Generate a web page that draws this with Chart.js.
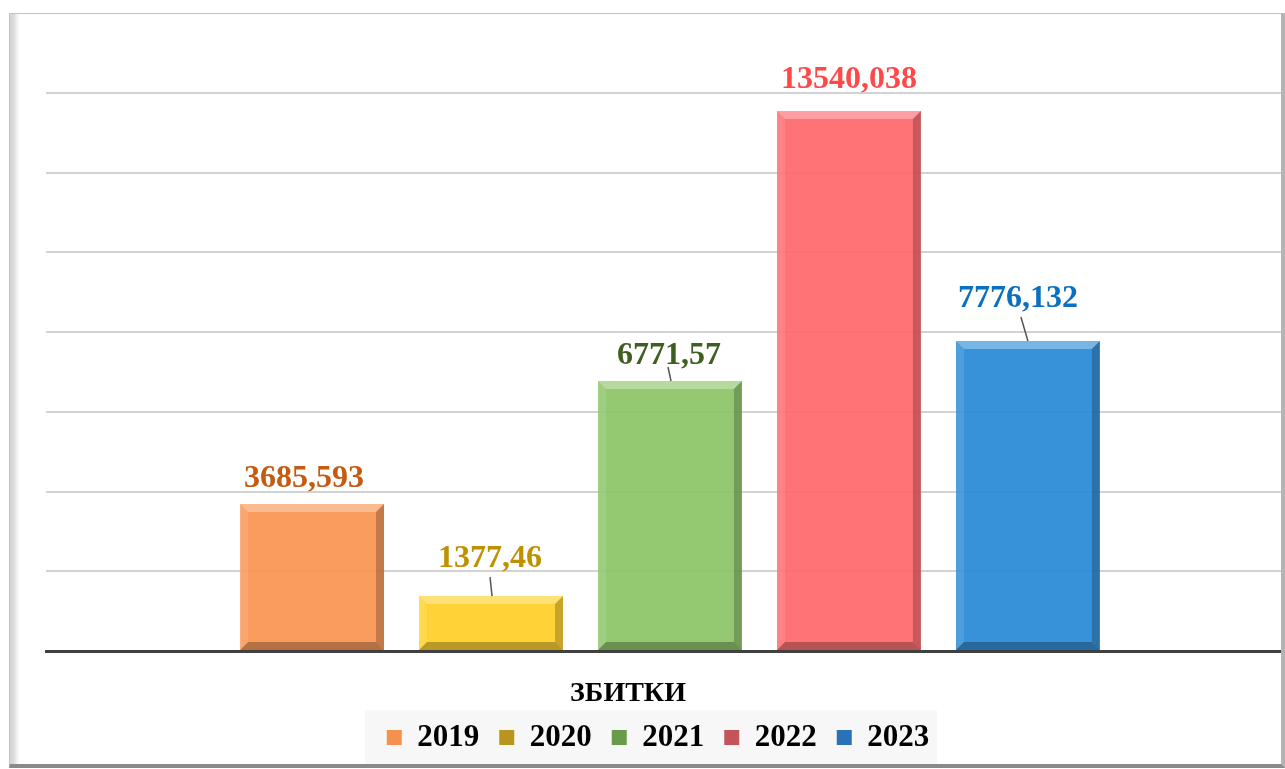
<!DOCTYPE html>
<html>
<head>
<meta charset="utf-8">
<script src="https://cdn.jsdelivr.net/npm/chart.js@4"></script>
<style>
    html, body { margin: 0; padding: 0; background: #fff; overflow: hidden; }
    #wrap { position: relative; width: 1285px; height: 769px; overflow: hidden; }
    #chart { position: absolute; left: 0; top: 0; }
    .frame {
        position: absolute; left: 9px; top: 13px; width: 1271px; height: 750px;
        border-top: 1px solid #c4c4c4; border-left: 1px solid #c4c4c4;
        border-right: 4px solid #b4b4b4; border-bottom: 4px solid #8a8a8a;
        box-shadow: inset 11px 0 4px -5px #d6d6d6;
        pointer-events: none; z-index: 2;
    }
</style>
</head>
<body>
<div id="wrap">
    <canvas id="chart" width="1297" height="769"></canvas>
    <div class="frame"></div>
</div>
<script>
// chart data
const categories = ['ЗБИТКИ'];
const years = ['2019', '2020', '2021', '2022', '2023'];
const losses = [3685.593, 1377.46, 6771.57, 13540.038, 7776.132];

const barColors = ['rgba(250,148,82,0.93)', 'rgba(255,208,40,0.93)', 'rgba(140,196,102,0.93)', 'rgba(255,104,108,0.93)', 'rgba(40,138,214,0.93)'];
const legendColors = ['#f5914e', '#b8961e', '#6a9a4c', '#c4545a', '#2a72b8'];
const labelColors = ['#c55a11', '#bf9000', '#3f5f22', '#ff4848', '#0a70c2'];
// label offset from bar top centre, optional leader line
const labelPos = [
    { dx: -8, dy: -25 },
    { dx: -1, dy: -37, line: [[-1, -19], [1, 0]] },
    { dx: -1, dy: -25, line: [[-2, -14], [1, 0]] },
    { dx: 0, dy: -31 },
    { dx: -10, dy: -42, line: [[-7, -24], [0, 0]] }
];

const serif = "'Liberation Serif', 'Times New Roman', serif";
const legendShift = -12;

// beveled look for the bars
const bevelPlugin = {
    id: 'bevel',
    afterDatasetsDraw(chart) {
        const ctx = chart.ctx;
        chart.data.datasets.forEach((ds, i) => {
            const meta = chart.getDatasetMeta(i);
            meta.data.forEach(bar => {
                const l = bar.x - bar.width / 2, r = bar.x + bar.width / 2;
                const t = bar.y, b = bar.base, s = 8;
                const poly = (pts, fill) => {
                    ctx.beginPath();
                    ctx.moveTo(pts[0][0], pts[0][1]);
                    pts.slice(1).forEach(p => ctx.lineTo(p[0], p[1]));
                    ctx.closePath();
                    ctx.fillStyle = fill;
                    ctx.fill();
                };
                ctx.save();
                poly([[l, t], [r, t], [r - s, t + s], [l + s, t + s]], 'rgba(255,255,255,0.32)');
                poly([[l, t], [l + s, t + s], [l + s, b - s], [l, b]], 'rgba(255,255,255,0.10)');
                poly([[r, t], [r, b], [r - s, b - s], [r - s, t + s]], 'rgba(0,0,0,0.22)');
                poly([[l, b], [r, b], [r - s, b - s], [l + s, b - s]], 'rgba(0,0,0,0.28)');
                ctx.restore();
            });
        });
    }
};

// value labels above bars
const valueLabels = {
    id: 'valueLabels',
    afterDatasetsDraw(chart) {
        const ctx = chart.ctx;
        ctx.save();
        chart.data.datasets.forEach((ds, i) => {
            const bar = chart.getDatasetMeta(i).data[0];
            const pos = labelPos[i];
            const text = String(ds.data[0]).replace('.', ',');
            if (pos.line) {
                ctx.beginPath();
                ctx.moveTo(bar.x + pos.line[0][0], bar.y + pos.line[0][1]);
                ctx.lineTo(bar.x + pos.line[1][0], bar.y + pos.line[1][1]);
                ctx.strokeStyle = '#555';
                ctx.lineWidth = 1.5;
                ctx.stroke();
            }
            ctx.font = 'bold 32px ' + serif;
            ctx.fillStyle = labelColors[i];
            ctx.textAlign = 'center';
            ctx.textBaseline = 'middle';
            ctx.fillText(text, bar.x + pos.dx, bar.y + pos.dy);
        });
        ctx.restore();
    }
};

// move legend a bit left and paint the light band behind it
const legendBand = {
    id: 'legendBand',
    afterLayout(chart) {
        chart.legend.left += legendShift;
        chart.legend.right += legendShift;
    },
    beforeDraw(chart) {
        const lg = chart.legend;
        if (!lg) return;
        const ctx = chart.ctx;
        const cx = (lg.left + lg.right) / 2;
        ctx.save();
        ctx.fillStyle = '#f7f7f7';
        ctx.fillRect(cx - 293, lg.top + 8, 572, 54);
        ctx.restore();
    }
};

new Chart(document.getElementById('chart'), {
    type: 'bar',
    data: {
        labels: categories,
        datasets: years.map((y, i) => ({
            label: y,
            data: [losses[i]],
            backgroundColor: barColors[i],
            borderWidth: 0,
            categoryPercentage: 0.717,
            barPercentage: 0.804
        }))
    },
    options: {
        responsive: false,
        animation: false,
        layout: { padding: { left: 46, right: 3, top: 13, bottom: 6 } },
        scales: {
            x: {
                grid: { display: false, drawTicks: false },
                border: { color: '#404040', width: 3 },
                ticks: { color: '#000', padding: 26, labelOffset: -42, font: { family: serif, size: 28, weight: 'bold' } },
                afterFit: scale => { scale.height = 51; }
            },
            y: {
                min: 0,
                max: 16000,
                ticks: { display: false, stepSize: 2000 },
                border: { display: false },
                grid: {
                    drawTicks: false,
                    lineWidth: 2,
                    color: c => (c.tick && (c.tick.value === 16000 || c.tick.value === 0)) ? 'rgba(0,0,0,0)' : '#d2d2d2'
                }
            }
        },
        plugins: {
            tooltip: { enabled: false },
            legend: {
                position: 'bottom',
                labels: {
                    color: '#000',
                    boxWidth: 15,
                    boxHeight: 15,
                    padding: 20,
                    font: { family: serif, size: 31, weight: 'bold' },
                    generateLabels: chart => chart.data.datasets.map((ds, i) => ({
                        text: ds.label,
                        fillStyle: legendColors[i],
                        strokeStyle: legendColors[i],
                        lineWidth: 0,
                        datasetIndex: i,
                        fontColor: '#000'
                    }))
                }
            }
        }
    },
    plugins: [legendBand, bevelPlugin, valueLabels]
});
</script>
</body>
</html>
